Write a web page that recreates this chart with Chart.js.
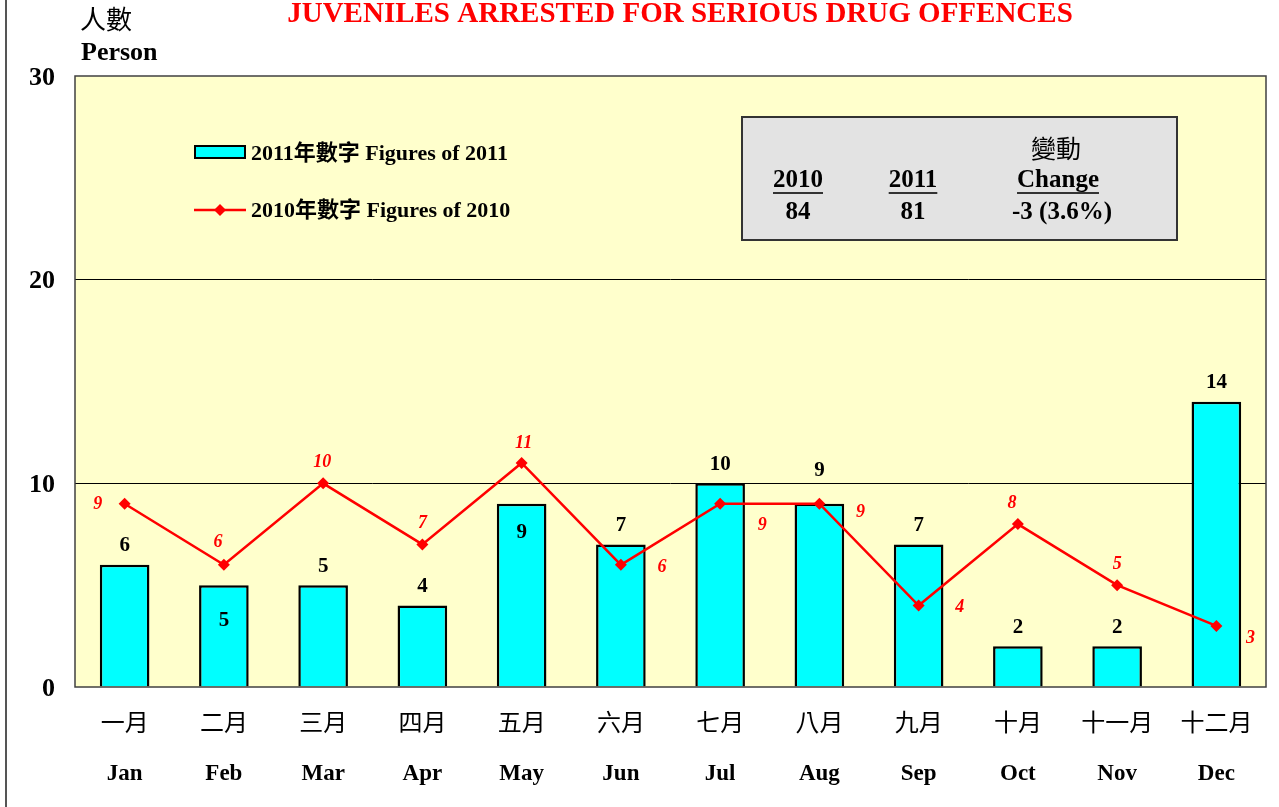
<!DOCTYPE html>
<html>
<head>
<meta charset="utf-8">
<script src="https://cdn.jsdelivr.net/npm/chart.js@4/dist/chart.umd.min.js"></script>
<style>
  html, body { margin: 0; padding: 0; background: #ffffff; }
  #wrap { position: relative; width: 1279px; height: 807px; }
</style>
</head>
<body>
<div id="wrap"><canvas id="drugChart"></canvas></div>
<script>
// ---- data ----
const monthsZh = ['一月', '二月', '三月', '四月', '五月', '六月', '七月', '八月', '九月', '十月', '十一月', '十二月'];
const monthsEn = ['Jan', 'Feb', 'Mar', 'Apr', 'May', 'Jun', 'Jul', 'Aug', 'Sep', 'Oct', 'Nov', 'Dec'];
const figures2011 = [6, 5, 5, 4, 9, 7, 10, 9, 7, 2, 2, 14];
const figures2010 = [9, 6, 10, 7, 11, 6, 9, 9, 4, 8, 5, 3];
const yTicks = [0, 10, 20, 30];
const summaryHead = ['2010', '2011', 'Change'];
const summaryVals = ['84', '81', '-3 (3.6%)'];

// label placement (pixels from the mark)
const barLabelDy = [-19, 35, -19, -19, 29, -19, -19, -33, -19, -19, -19, -19];
const lineLabelOff = [[-27, 1], [-6, -22], [-1, -21], [0, -21], [2, -20], [41, 3],
                      [42, 22], [41, 9], [41, 2], [-6, -21], [0, -21], [34, 12]];

const SERIF = '"Liberation Serif", "Times New Roman", serif';
const CJK = '"Noto Sans CJK TC", "Noto Sans CJK SC", sans-serif';

const decorPlugin = {
    id: 'decor',
    beforeDraw(chart) {
        const { ctx, chartArea: a } = chart;
        ctx.save();
        ctx.fillStyle = '#ffffcc';
        ctx.fillRect(a.left, a.top, a.right - a.left, a.bottom - a.top);
        ctx.restore();
    },
    afterDatasetsDraw(chart) {
        const { ctx, chartArea: a } = chart;
        ctx.save();

        // plot border
        ctx.strokeStyle = '#404040';
        ctx.lineWidth = 1.5;
        ctx.strokeRect(a.left, a.top, a.right - a.left, a.bottom - a.top);

        // page border on the left
        ctx.strokeStyle = '#555555';
        ctx.lineWidth = 2;
        ctx.beginPath();
        ctx.moveTo(6, 0);
        ctx.lineTo(6, 807);
        ctx.stroke();

        // title
        ctx.fillStyle = '#ff0000';
        ctx.font = 'bold 29px ' + SERIF;
        ctx.textAlign = 'center';
        ctx.textBaseline = 'middle';
        ctx.fillText('JUVENILES ARRESTED FOR SERIOUS DRUG OFFENCES', 680, 15);

        // y axis title
        ctx.fillStyle = '#000000';
        ctx.textAlign = 'left';
        ctx.font = '26px ' + CJK;
        ctx.fillText('人數', 80, 19);
        ctx.font = 'bold 26px ' + SERIF;
        ctx.fillText('Person', 81, 53);

        // bar value labels
        const barMeta = chart.getDatasetMeta(1);
        ctx.font = 'bold 21px ' + SERIF;
        ctx.textAlign = 'center';
        barMeta.data.forEach((bar, i) => {
            ctx.fillText(String(figures2011[i]), bar.x, bar.y + barLabelDy[i]);
        });

        // line value labels
        const lineMeta = chart.getDatasetMeta(0);
        ctx.fillStyle = '#ff0000';
        ctx.font = 'italic bold 18px ' + SERIF;
        lineMeta.data.forEach((pt, i) => {
            ctx.fillText(String(figures2010[i]), pt.x + lineLabelOff[i][0], pt.y + lineLabelOff[i][1]);
        });

        // legend
        ctx.fillStyle = '#00ffff';
        ctx.fillRect(195, 146, 50, 12);
        ctx.strokeStyle = '#000000';
        ctx.lineWidth = 2;
        ctx.strokeRect(195, 146, 50, 12);
        ctx.strokeStyle = '#ff0000';
        ctx.lineWidth = 2.5;
        ctx.beginPath();
        ctx.moveTo(194, 210);
        ctx.lineTo(246, 210);
        ctx.stroke();
        ctx.fillStyle = '#ff0000';
        ctx.beginPath();
        ctx.moveTo(220, 204);
        ctx.lineTo(226, 210);
        ctx.lineTo(220, 216);
        ctx.lineTo(214, 210);
        ctx.closePath();
        ctx.fill();
        ctx.fillStyle = '#000000';
        ctx.textAlign = 'left';
        ctx.font = 'bold 22px ' + SERIF + ', ' + CJK;
        ctx.fillText('2011年數字 Figures of 2011', 251, 154);
        ctx.fillText('2010年數字 Figures of 2010', 251, 211);

        // summary box
        ctx.fillStyle = '#e3e3e3';
        ctx.fillRect(742, 117, 435, 123);
        ctx.strokeStyle = '#333333';
        ctx.lineWidth = 2;
        ctx.strokeRect(742, 117, 435, 123);
        ctx.fillStyle = '#000000';
        ctx.textAlign = 'center';
        ctx.font = '25px ' + CJK;
        ctx.fillText('變動', 1056, 148);
        const cols = [798, 913, 1058];
        ctx.font = 'bold 25px ' + SERIF;
        summaryHead.forEach((t, i) => {
            ctx.fillText(t, cols[i], 181);
            const w = ctx.measureText(t).width;
            ctx.lineWidth = 2;
            ctx.beginPath();
            ctx.moveTo(cols[i] - w / 2, 193);
            ctx.lineTo(cols[i] + w / 2, 193);
            ctx.stroke();
        });
        summaryVals.forEach((t, i) => {
            ctx.fillText(t, cols[i] + (i === 2 ? 4 : 0), 213);
        });

        ctx.restore();
    }
};

new Chart(document.getElementById('drugChart'), {
    type: 'bar',
    data: {
        labels: monthsZh,
        datasets: [
            {
                type: 'line',
                label: '2010年數字 Figures of 2010',
                data: figures2010,
                borderColor: '#ff0000',
                backgroundColor: '#ff0000',
                borderWidth: 2.5,
                pointStyle: 'rectRot',
                pointRadius: 6,
                pointBackgroundColor: '#ff0000',
                pointBorderWidth: 0,
                tension: 0,
                order: 0
            },
            {
                type: 'bar',
                label: '2011年數字 Figures of 2011',
                data: figures2011,
                backgroundColor: '#00ffff',
                borderColor: '#000000',
                borderWidth: 2.5,
                barPercentage: 0.5,
                categoryPercentage: 1.0,
                order: 1
            }
        ]
    },
    options: {
        responsive: true,
        maintainAspectRatio: false,
        animation: false,
        layout: { padding: { left: 0, top: 76, right: 13, bottom: 0 } },
        plugins: {
            legend: { display: false },
            tooltip: { enabled: false }
        },
        scales: {
            x: {
                type: 'category',
                offset: true,
                grid: { display: false, drawTicks: false },
                border: { display: false },
                ticks: {
                    color: '#000000',
                    font: { family: CJK, size: 24 },
                    padding: 20,
                    maxRotation: 0,
                    autoSkip: false
                },
                afterFit(scale) { scale.height = 60; }
            },
            x2: {
                type: 'category',
                labels: monthsEn,
                position: 'bottom',
                offset: true,
                grid: { display: false, drawTicks: false },
                border: { display: false },
                ticks: {
                    color: '#000000',
                    font: { family: SERIF, size: 23, weight: 'bold' },
                    padding: 13,
                    maxRotation: 0,
                    autoSkip: false
                },
                afterFit(scale) { scale.height = 60; }
            },
            y: {
                min: 0,
                max: 30,
                afterBuildTicks(scale) { scale.ticks = yTicks.map(v => ({ value: v })); },
                grid: {
                    drawTicks: false,
                    color: (c) => (c.tick && (c.tick.value === 0 || c.tick.value === 30)) ? 'rgba(0,0,0,0)' : '#000000',
                    lineWidth: 1
                },
                border: { display: false },
                ticks: {
                    color: '#000000',
                    font: { family: SERIF, size: 26, weight: 'bold' },
                    padding: 20,
                    labelOffset: 2
                },
                afterFit(scale) { scale.width = 75; }
            }
        }
    },
    plugins: [decorPlugin]
});
</script>
</body>
</html>
